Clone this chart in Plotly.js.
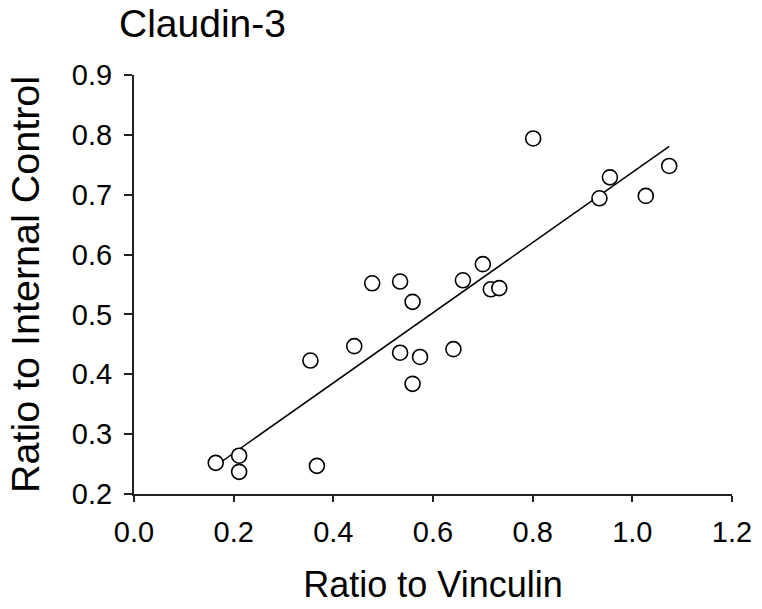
<!DOCTYPE html>
<html>
<head>
<meta charset="utf-8">
<script src="https://cdn.plot.ly/plotly-3.0.1.min.js"></script>
<style>
  html, body { margin: 0; padding: 0; background: #fff; }
  #chart { width: 762px; height: 609px; }
</style>
</head>
<body>
<div id="chart"></div>
<script>
// Claudin-3: ratio to vinculin vs ratio to internal control
const vinculin = [0.164, 0.211, 0.211, 0.367, 0.354, 0.442, 0.478, 0.534, 0.534, 0.559, 0.574,
                  0.559, 0.641, 0.660, 0.700, 0.716, 0.733, 0.801, 0.934, 0.955, 1.027, 1.074];
const internal = [0.252, 0.264, 0.237, 0.247, 0.423, 0.447, 0.552, 0.555, 0.436, 0.521, 0.429,
                  0.384, 0.442, 0.557, 0.584, 0.542, 0.544, 0.794, 0.694, 0.729, 0.698, 0.748];
const xTicks = [0.0, 0.2, 0.4, 0.6, 0.8, 1.0, 1.2];
const yTicks = [0.2, 0.3, 0.4, 0.5, 0.6, 0.7, 0.8, 0.9];

// least squares fit, drawn from smallest to largest x
const n = vinculin.length;
const mx = vinculin.reduce((a, b) => a + b, 0) / n;
const my = internal.reduce((a, b) => a + b, 0) / n;
let sxy = 0, sxx = 0;
for (let i = 0; i < n; i++) {
  sxy += (vinculin[i] - mx) * (internal[i] - my);
  sxx += (vinculin[i] - mx) * (vinculin[i] - mx);
}
const slope = sxy / sxx;
const icept = my - slope * mx;
const fitX = [Math.min(...vinculin), Math.max(...vinculin)];
const fitY = fitX.map(v => icept + slope * v);

const font = "Liberation Sans, Arial, sans-serif";

const data = [
  {
    x: fitX, y: fitY, type: "scatter", mode: "lines",
    line: {color: "#000", width: 1.5},
    hoverinfo: "skip"
  },
  {
    x: vinculin, y: internal, type: "scatter", mode: "markers",
    marker: {symbol: "circle", size: 15, color: "#fff", line: {color: "#000", width: 1.6}}
  }
];

const layout = {
  width: 762, height: 609,
  margin: {l: 134, r: 30, t: 75, b: 115},
  paper_bgcolor: "#fff", plot_bgcolor: "#fff",
  showlegend: false,
  font: {family: font, color: "#000"},
  title: {
    text: "Claudin-3",
    font: {family: font, size: 39, color: "#000"},
    x: 119 / 762, xref: "container", xanchor: "left",
    y: 1 - 10 / 609, yref: "container", yanchor: "top"
  },
  xaxis: {
    range: [0, 1.2], tickvals: xTicks, ticktext: xTicks.map(v => v.toFixed(1)),
    showgrid: false, zeroline: false,
    showline: true, linecolor: "#222", linewidth: 2,
    ticks: "outside", ticklen: 6, tickwidth: 2, tickcolor: "#222",
    tickfont: {family: font, size: 29, color: "#000"},
    ticklabelstandoff: 5,
    title: {text: "Ratio to Vinculin", font: {family: font, size: 36, color: "#000"}, standoff: 25}
  },
  yaxis: {
    range: [0.2, 0.9], tickvals: yTicks, ticktext: yTicks.map(v => v.toFixed(1)),
    showgrid: false, zeroline: false,
    showline: true, linecolor: "#222", linewidth: 2,
    ticks: "outside", ticklen: 8, tickwidth: 2, tickcolor: "#222",
    tickfont: {family: font, size: 29, color: "#000"},
    ticklabelstandoff: 6,
    title: {text: "Ratio to Internal Control", font: {family: font, size: 39.5, color: "#000"}, standoff: 20}
  }
};

Plotly.newPlot("chart", data, layout, {staticPlot: true, displayModeBar: false});
</script>
</body>
</html>
